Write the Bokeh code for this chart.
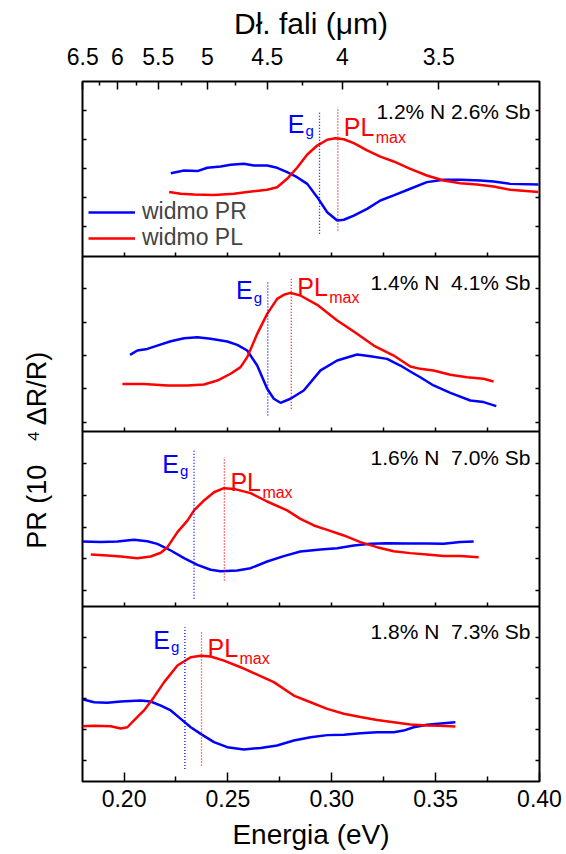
import numpy as np
from bokeh.plotting import figure
from bokeh.models import (Range1d, LinearAxis, FixedTicker, Label, Legend, LegendItem)
from bokeh.embed import file_html
from bokeh.resources import INLINE

# ---------------- data (energy in eV, signal in arbitrary panel units 0..10) ----------------
E_PR1 = [0.2225,0.2289,0.2353,0.2401,0.2465,0.2513,0.2577,0.2625,0.2689,0.2737,0.2785,0.2833,0.2882,0.2930,0.2978,0.3026,0.3058,0.3106,0.3170,0.3234,0.3298,0.3378,0.3458,0.3538,0.3619,0.3715,0.3779,0.3859,0.3995]
PR1 = [4.76,4.91,4.88,5.07,5.14,5.24,5.30,5.20,5.20,5.07,4.82,4.53,4.15,3.39,2.53,2.06,2.10,2.34,2.72,3.20,3.49,3.87,4.25,4.38,4.38,4.34,4.29,4.15,4.11]
E_PL1 = [0.2217,0.2273,0.2337,0.2433,0.2529,0.2593,0.2689,0.2737,0.2785,0.2833,0.2882,0.2930,0.2978,0.3018,0.3058,0.3106,0.3170,0.3234,0.3298,0.3378,0.3458,0.3538,0.3619,0.3699,0.3779,0.3859,0.3995]
PL1 = [3.68,3.58,3.54,3.52,3.58,3.68,3.81,3.96,4.44,5.07,5.83,6.34,6.67,6.76,6.70,6.48,6.06,5.71,5.43,5.01,4.63,4.34,4.19,4.11,4.00,3.81,3.68]

E_PR2 = [0.2029,0.2064,0.2112,0.2160,0.2225,0.2289,0.2353,0.2417,0.2497,0.2545,0.2593,0.2641,0.2689,0.2721,0.2753,0.2801,0.2865,0.2946,0.3026,0.3122,0.3186,0.3266,0.3330,0.3378,0.3426,0.3490,0.3571,0.3667,0.3731,0.3792]
PR2 = [4.38,4.63,4.72,4.91,5.16,5.33,5.39,5.30,5.14,4.95,4.63,3.77,2.44,1.87,1.64,1.87,2.34,3.49,4.06,4.40,4.30,4.15,3.77,3.43,3.10,2.63,2.21,1.77,1.68,1.45]
E_PL2 = [0.1992,0.2096,0.2209,0.2305,0.2385,0.2449,0.2513,0.2561,0.2593,0.2641,0.2689,0.2737,0.2769,0.2801,0.2849,0.2930,0.3026,0.3106,0.3202,0.3298,0.3378,0.3426,0.3490,0.3571,0.3651,0.3731,0.3779]
PL2 = [2.72,2.72,2.63,2.63,2.69,2.91,3.30,3.68,4.25,5.58,6.72,7.58,7.81,7.92,7.77,7.24,6.34,5.71,4.91,4.34,3.71,3.58,3.49,3.24,3.10,3.01,2.86]

E_PR3 = [0.1800,0.1888,0.1968,0.2048,0.2112,0.2160,0.2225,0.2289,0.2353,0.2417,0.2465,0.2545,0.2609,0.2689,0.2769,0.2849,0.2946,0.3026,0.3106,0.3186,0.3266,0.3378,0.3458,0.3538,0.3619,0.3683]
PR3 = [3.71,3.68,3.71,3.81,3.73,3.58,3.20,2.76,2.38,2.10,2.02,2.06,2.19,2.57,2.88,3.14,3.26,3.33,3.49,3.58,3.62,3.60,3.60,3.58,3.68,3.71]
E_PL3 = [0.1840,0.1920,0.1984,0.2064,0.2128,0.2177,0.2209,0.2257,0.2305,0.2337,0.2385,0.2433,0.2481,0.2529,0.2609,0.2689,0.2785,0.2849,0.2914,0.2978,0.3058,0.3138,0.3218,0.3298,0.3378,0.3458,0.3538,0.3619,0.3707]
PL3 = [2.97,2.91,2.86,2.76,2.86,3.07,3.39,4.25,4.91,5.49,6.06,6.53,6.76,6.72,6.48,6.00,5.49,5.01,4.63,4.38,4.06,3.68,3.39,3.16,3.05,2.97,2.88,2.88,2.82]

E_PR4 = [0.1800,0.1856,0.1920,0.1984,0.2080,0.2128,0.2177,0.2225,0.2273,0.2321,0.2369,0.2433,0.2497,0.2577,0.2657,0.2737,0.2817,0.2898,0.2978,0.3058,0.3138,0.3218,0.3298,0.3346,0.3394,0.3458,0.3538,0.3595]
PR4 = [4.70,4.53,4.50,4.57,4.63,4.57,4.34,4.06,3.58,3.10,2.72,2.25,1.96,1.83,1.92,2.06,2.34,2.53,2.65,2.67,2.76,2.82,2.82,2.91,3.10,3.24,3.33,3.39]
E_PL4 = [0.1800,0.1856,0.1936,0.1984,0.2016,0.2048,0.2096,0.2144,0.2193,0.2257,0.2321,0.2369,0.2417,0.2481,0.2561,0.2641,0.2721,0.2817,0.2898,0.2978,0.3058,0.3138,0.3218,0.3298,0.3378,0.3458,0.3522,0.3595]
PL4 = [3.16,3.18,3.16,3.03,3.10,3.49,4.06,4.82,5.68,6.63,7.10,7.18,7.14,6.91,6.53,6.11,5.68,4.91,4.53,4.15,3.87,3.68,3.52,3.39,3.26,3.20,3.18,3.14]

# band gap and PL maximum energies per panel (top to bottom)
EG = [0.2941, 0.2692, 0.2337, 0.2293]
PLMAX = [0.3029, 0.2805, 0.2483, 0.2373]
EG_TOP = [8.25, 8.63, 8.91, 8.82]
EG_BOT = [1.30, 0.91, 0.44, 0.72]
PLM_TOP = [8.53, 8.72, 8.53, 8.63]
PLM_BOT = [1.49, 1.30, 1.49, 0.91]
COMPOSITION = ["1.2% N 2.6% Sb", "1.4% N\u00a0 4.1% Sb", "1.6% N\u00a0 7.0% Sb", "1.8% N\u00a0 7.3% Sb"]

# axis tick labels
ENERGY_TICKS = [0.20, 0.25, 0.30, 0.35, 0.40]
ENERGY_MINOR = [0.225, 0.275, 0.325, 0.375]
INNER_TICKS = [0.20, 0.225, 0.25, 0.275, 0.30, 0.325, 0.35, 0.375]
WL_TICKS = [6.5, 6, 5.5, 5, 4.5, 4, 3.5]
WL_MINOR = [6.25, 5.75, 5.25, 4.75, 4.25, 3.75, 3.25]
Y_TICKS = [[1.71, 3.37, 5.03, 6.69, 8.34],
           [0.51, 2.46, 4.34, 6.23, 8.17],
           [0.91, 2.74, 4.51, 6.34, 8.17],
           [1.20, 2.97, 4.74, 6.51, 8.23]]

E_PR = [E_PR1, E_PR2, E_PR3, E_PR4]
PR = [PR1, PR2, PR3, PR4]
E_PL = [E_PL1, E_PL2, E_PL3, E_PL4]
PL = [PL1, PL2, PL3, PL4]

FONT = "Liberation Sans"
BLUE = "#0000ff"
RED = "#ff0000"
PANEL_H = 10.0
NB = "\u00a0"


def wl_to_e(lam):
    # wavelength scale of the top axis (as in the original figure)
    return 1.30 / lam - 0.0199


def offset(k):
    return (3 - k) * PANEL_H


p = figure(width=566, height=854, output_backend="svg", toolbar_location=None,
           x_range=Range1d(0.18, 0.40), y_range=Range1d(0, 4 * PANEL_H),
           min_border_left=82, min_border_right=27, min_border_top=81, min_border_bottom=73,
           x_axis_location=None, y_axis_location=None, background_fill_color="white",
           border_fill_color="white")
p.grid.visible = False
p.outline_line_color = "black"
p.outline_line_width = 2

# bottom axis
xb = LinearAxis(ticker=FixedTicker(ticks=ENERGY_TICKS, minor_ticks=ENERGY_MINOR),
                axis_label="Energia (eV)")
xb.major_label_overrides = {t: f"{t:.2f}" for t in ENERGY_TICKS}
xb.axis_line_color = None
xb.major_tick_in = 9
xb.major_tick_out = 0
xb.minor_tick_in = 5
xb.minor_tick_out = 0
xb.major_tick_line_width = 1.5
xb.minor_tick_line_width = 1.5
xb.major_label_text_font = FONT
xb.major_label_text_font_size = "23px"
xb.major_label_text_color = "black"
xb.major_label_standoff = 8
xb.axis_label_text_font = FONT
xb.axis_label_text_font_size = "28px"
xb.axis_label_text_font_style = "normal"
xb.axis_label_text_color = "black"
xb.axis_label_standoff = 9
p.add_layout(xb, "below")

# top axis (wavelength)
wl_pos = [wl_to_e(l) for l in WL_TICKS]
xt = LinearAxis(ticker=FixedTicker(ticks=wl_pos, minor_ticks=[wl_to_e(l) for l in WL_MINOR]),
                axis_label="Dł. fali (μm)")
xt.major_label_overrides = {e: f"{l:g}" for e, l in zip(wl_pos, WL_TICKS)}
xt.axis_line_color = None
xt.major_tick_in = 8
xt.major_tick_out = 0
xt.minor_tick_in = 4
xt.minor_tick_out = 0
xt.major_tick_line_width = 1.5
xt.minor_tick_line_width = 1.5
xt.major_label_text_font = FONT
xt.major_label_text_font_size = "23px"
xt.major_label_text_color = "black"
xt.major_label_standoff = 17
xt.axis_label_text_font = FONT
xt.axis_label_text_font_size = "30px"
xt.axis_label_text_font_style = "normal"
xt.axis_label_text_color = "black"
xt.axis_label_standoff = 5
p.add_layout(xt, "above")

# y axes (no labels, inward ticks)
yt = []
for k in range(4):
    yt += [offset(k) + t for t in Y_TICKS[k]]
for side in ["left", "right"]:
    ya = LinearAxis(ticker=FixedTicker(ticks=yt, minor_ticks=[]))
    ya.axis_line_color = None
    ya.major_tick_in = 4
    ya.major_tick_out = 0
    ya.major_tick_line_width = 1.5
    ya.major_label_text_font_size = "0px"
    ya.major_label_text_alpha = 0
    ya.major_label_standoff = 0
    if side == "left":
        ya.axis_label = "PR (10" + NB * 3 + "\u2074" + "\u2009" + "ΔR/R)" + NB * 5
        ya.axis_label_text_font = FONT
        ya.axis_label_text_font_size = "27px"
        ya.axis_label_text_font_style = "normal"
        ya.axis_label_text_color = "black"
        ya.axis_label_standoff = 31
    p.add_layout(ya, side)

# panel separators (axes fixed inside the frame)
for k in range(3):
    sep = LinearAxis(ticker=FixedTicker(ticks=INNER_TICKS, minor_ticks=[]),
                     fixed_location=offset(k))
    sep.axis_line_width = 2
    sep.major_tick_in = 4
    sep.major_tick_out = 0
    sep.major_tick_line_width = 1.5
    sep.major_label_text_font_size = "0px"
    sep.major_label_text_alpha = 0
    p.add_layout(sep, "below")

# curves
legend_renderers = []
for k in range(4):
    r_pr = p.line(E_PR[k], np.array(PR[k]) + offset(k), line_color=BLUE, line_width=2.5)
    r_pl = p.line(E_PL[k], np.array(PL[k]) + offset(k), line_color=RED, line_width=2.5)
    if k == 0:
        legend_renderers = [r_pr, r_pl]
    # dotted marker lines
    p.segment(x0=[EG[k]], y0=[EG_BOT[k] + offset(k)], x1=[EG[k]], y1=[EG_TOP[k] + offset(k)],
              line_color=BLUE, line_width=1.3, line_dash="1 2")
    p.segment(x0=[PLMAX[k]], y0=[PLM_BOT[k] + offset(k)], x1=[PLMAX[k]], y1=[PLM_TOP[k] + offset(k)],
              line_color=RED, line_width=1.3, line_dash="1 2")

# per-panel annotations
EG_Y = [7.58, 8.06, 8.15, 8.10]
PL_Y = [7.39, 8.25, 7.10, 7.62]
COMP_Y = [8.30, 8.53, 8.53, 8.59]
for k in range(4):
    o = offset(k)
    p.add_layout(Label(x=EG[k], y=EG_Y[k] + o, x_offset=-15, text="E", text_align="right",
                       text_baseline="alphabetic", text_font=FONT, text_font_size="25px",
                       text_color=BLUE))
    p.add_layout(Label(x=EG[k], y=EG_Y[k] + o, x_offset=-14, y_offset=-7, text="g",
                       text_align="left", text_baseline="alphabetic", text_font=FONT,
                       text_font_size="15px", text_color=BLUE))
    p.add_layout(Label(x=PLMAX[k], y=PL_Y[k] + o, x_offset=6, text="PL", text_align="left",
                       text_baseline="alphabetic", text_font=FONT, text_font_size="25px",
                       text_color=RED))
    p.add_layout(Label(x=PLMAX[k], y=PL_Y[k] + o, x_offset=38, y_offset=-10, text="max",
                       text_align="left", text_baseline="alphabetic", text_font=FONT,
                       text_font_size="16px", text_color=RED))
    p.add_layout(Label(x=0.40, y=COMP_Y[k] + o, x_offset=-9, text=COMPOSITION[k],
                       text_align="right", text_baseline="alphabetic", text_font=FONT,
                       text_font_size="21px", text_color="black"))

# legend: one legend per entry, so the row pitch matches the original
LEGEND_LABELS = ["widmo PR", "widmo PL"]
for r, lab, ly in zip(legend_renderers, LEGEND_LABELS, [556, 530]):
    lg = Legend(items=[LegendItem(label=lab, renderers=[r])],
                location=(6, ly), padding=0, margin=0, spacing=0, glyph_width=47,
                glyph_height=20, label_height=20, label_standoff=7,
                label_text_font=FONT, label_text_font_size="23px",
                border_line_alpha=0, background_fill_alpha=0)
    p.add_layout(lg)

open("out.html", "w").write(file_html(p, INLINE))
